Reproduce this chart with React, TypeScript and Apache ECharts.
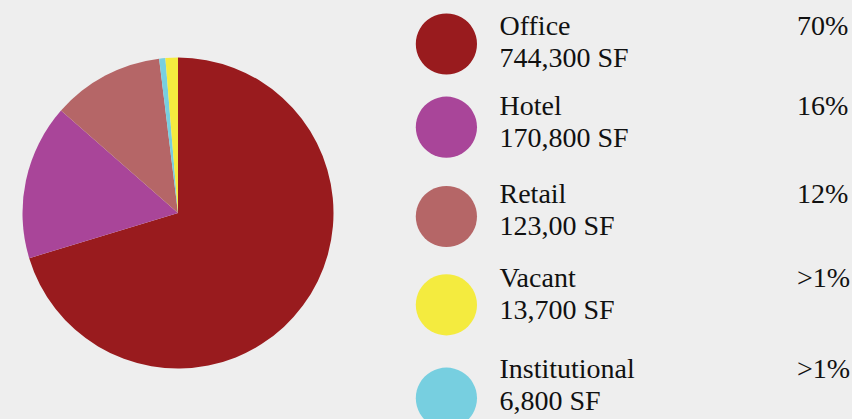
import React, { useEffect, useRef } from "react";
import * as echarts from "echarts";

const categories = ["Office", "Hotel", "Retail", "Institutional", "Vacant"];
const values = [744300, 170800, 123000, 6800, 13700];
const colors = ["#991b1e", "#a94599", "#b56667", "#77cfe0", "#f4eb3f"];

// legend (display order) texts
const legendNames = ["Office", "Hotel", "Retail", "Vacant", "Institutional"];
const legendAreas = ["744,300 SF", "170,800 SF", "123,00 SF", "13,700 SF", "6,800 SF"];
const legendPercents = ["70%", "16%", "12%", ">1%", ">1%"];

// layout for legend rows (label baseline, circle centre)
const rowBaselines = [35, 114.5, 203.3, 286.7, 377.7];
const circleCenters = [44, 127.2, 216.5, 304.8, 398.2];

export default function App() {
  const ref = useRef<HTMLDivElement>(null);
  useEffect(() => {
    document.body.style.margin = "0";
    document.body.style.background = "#eeeeee";
    const chart = echarts.init(ref.current!, null, { renderer: "svg" });
    const family = "'Liberation Serif', 'Times New Roman', serif";
    const fs = 28;
    const shift = fs * 0.3375;
    const textStyle = (text: string) => ({
      text,
      fontFamily: family,
      fontSize: fs,
      fill: "#111111",
      verticalAlign: "middle",
      align: "left",
    });
    const graphics: any[] = [];
    legendNames.forEach((name, i) => {
      const ci = categories.indexOf(name);
      graphics.push({
        type: "circle",
        shape: { cx: 446.4, cy: circleCenters[i], r: 30.6 },
        style: { fill: colors[ci] },
      });
      graphics.push({ type: "text", x: 499.5, y: rowBaselines[i] - shift, style: textStyle(name) });
      graphics.push({ type: "text", x: 499.5, y: rowBaselines[i] + 32 - shift, style: textStyle(legendAreas[i]) });
      graphics.push({ type: "text", x: 797, y: rowBaselines[i] - shift, style: textStyle(legendPercents[i]) });
    });
    chart.setOption({
      animation: false,
      backgroundColor: "#eeeeee",
      series: [
        {
          type: "pie",
          center: [178, 213],
          radius: [0, 155.5],
          startAngle: 90,
          clockwise: true,
          label: { show: false },
          labelLine: { show: false },
          silent: true,
          itemStyle: { borderWidth: 0 },
          data: categories.map((c, i) => ({ name: c, value: values[i], itemStyle: { color: colors[i] } })),
        },
      ],
      graphic: graphics,
    });
    return () => chart.dispose();
  }, []);
  return <div ref={ref} style={{ width: 852, height: 419 }} />;
}
